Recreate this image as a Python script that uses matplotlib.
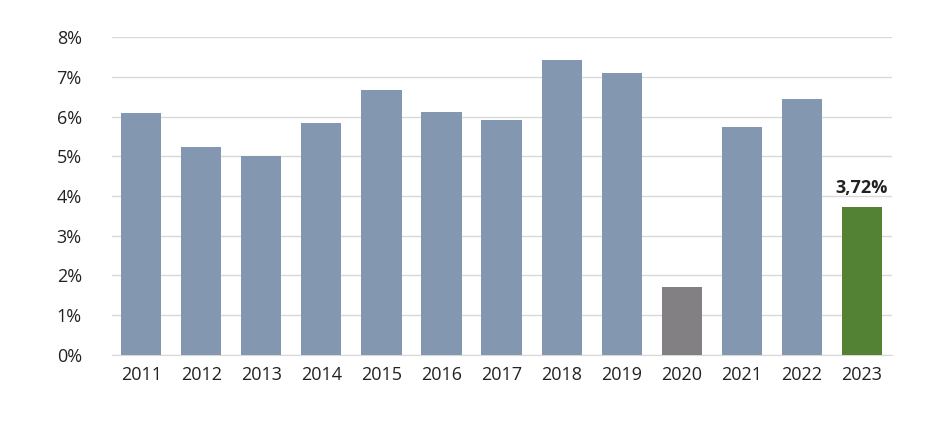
import matplotlib
matplotlib.use('Agg')
import matplotlib.pyplot as plt
from matplotlib.ticker import FuncFormatter

years = ['2011', '2012', '2013', '2014', '2015', '2016', '2017',
         '2018', '2019', '2020', '2021', '2022', '2023']
values = [6.09, 5.23, 5.00, 5.84, 6.67, 6.11, 5.91, 7.42, 7.09, 1.71, 5.74, 6.44, 3.72]

colors = ['#8497B0'] * len(years)
colors[9] = '#838083'
colors[12] = '#548235'

plt.rcParams['font.family'] = ['Open Sans', 'DejaVu Sans']

fig = plt.figure(figsize=(9.52, 4.22), dpi=100)
ax = fig.add_axes([0.118, 0.159, 0.819, 0.753])

x = range(len(years))
ax.bar(x, values, width=0.67, color=colors, zorder=3)

ax.set_ylim(0, 8)
ax.set_xlim(-0.48, len(years) - 0.5)
ax.set_yticks(range(0, 9))
ax.yaxis.set_major_formatter(FuncFormatter(lambda v, p: f'{int(v)}%'))
ax.set_xticks(list(x))
ax.set_xticklabels(years)
ax.tick_params(axis='both', length=0, labelsize=13, colors='#222222')
ax.tick_params(axis='y', pad=22)
ax.tick_params(axis='x', pad=8)
ax.grid(axis='y', color='#d9d9d9', linewidth=1, zorder=0)
for s in ['top', 'right', 'left']:
    ax.spines[s].set_visible(False)
ax.spines['bottom'].set_color('#d9d9d9')

ax.text(12, values[12] + 0.25, '3,72%', ha='center', va='bottom',
        fontsize=13, fontweight='bold', color='#222222')

fig.savefig('out.png', dpi=100)
